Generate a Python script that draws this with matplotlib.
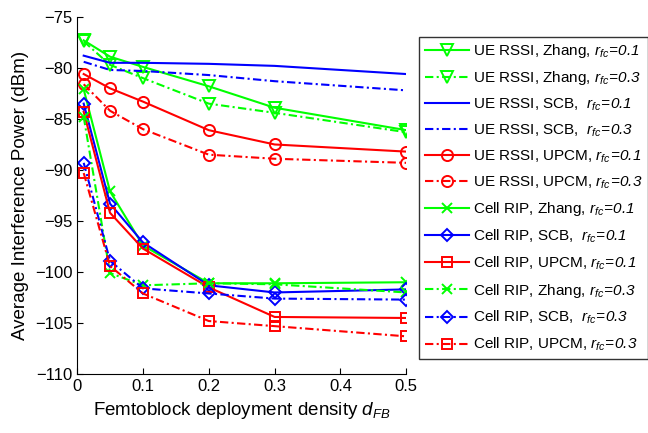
import numpy as np
import matplotlib
matplotlib.use("Agg")
import matplotlib.pyplot as plt

plt.rcParams["font.family"] = ["Liberation Sans", "DejaVu Sans"]
plt.rcParams["mathtext.fontset"] = "custom"
plt.rcParams["mathtext.rm"] = "Liberation Sans"
plt.rcParams["mathtext.it"] = "Liberation Sans:italic"
# sf slot used for italic digits (mathtext puts non-letters of \mathit in rm)
plt.rcParams["mathtext.sf"] = "Liberation Sans:italic"

# --- data ---
density = [0.01, 0.05, 0.1, 0.2, 0.3, 0.5]

ue_zhang_01 = [-77.3, -78.9, -79.9, -81.8, -83.9, -86.1]
ue_zhang_03 = [-77.4, -79.7, -81.0, -83.5, -84.4, -86.3]
ue_scb_01 = [-78.8, -79.5, -79.5, -79.6, -79.8, -80.6]
ue_scb_03 = [-79.4, -80.2, -80.3, -80.7, -81.3, -82.2]
ue_upcm_01 = [-80.6, -82.0, -83.3, -86.1, -87.5, -88.2]
ue_upcm_03 = [-81.6, -84.2, -86.0, -88.5, -88.9, -89.3]
rip_zhang_01 = [-82.1, -92.1, -97.4, -101.1, -101.1, -101.0]
rip_scb_01 = [-83.5, -93.3, -97.1, -101.3, -102.0, -101.7]
rip_upcm_01 = [-84.3, -94.2, -97.7, -101.5, -104.4, -104.5]
rip_zhang_03 = [-84.8, -100.1, -101.3, -101.1, -101.2, -102.0]
rip_scb_03 = [-89.3, -98.9, -101.6, -102.1, -102.6, -102.7]
rip_upcm_03 = [-90.3, -99.4, -102.1, -104.8, -105.3, -106.3]

rfc1 = r"$r_{fc}\!\mathsf{=}\!\mathsf{0.1}$"
rfc3 = r"$r_{fc}\!\mathsf{=}\!\mathsf{0.3}$"

# (values, label, color, style, marker, markersize)
series = [
    (ue_zhang_01, "UE RSSI, Zhang, " + rfc1, "#00ff00", "-", "v", 9),
    (ue_zhang_03, "UE RSSI, Zhang, " + rfc3, "#00ff00", "-.", "v", 9),
    (ue_scb_01, "UE RSSI, SCB,  " + rfc1, "#0000ff", "-", None, 0),
    (ue_scb_03, "UE RSSI, SCB,  " + rfc3, "#0000ff", "-.", None, 0),
    (ue_upcm_01, "UE RSSI, UPCM, " + rfc1, "#ff0000", "-", "o", 8),
    (ue_upcm_03, "UE RSSI, UPCM, " + rfc3, "#ff0000", "-.", "o", 8),
    (rip_zhang_01, "Cell RIP, Zhang, " + rfc1, "#00ff00", "-", "x", 7),
    (rip_scb_01, "Cell RIP, SCB,  " + rfc1, "#0000ff", "-", "D", 6),
    (rip_upcm_01, "Cell RIP, UPCM, " + rfc1, "#ff0000", "-", "s", 7),
    (rip_zhang_03, "Cell RIP, Zhang, " + rfc3, "#00ff00", "-.", "x", 7),
    (rip_scb_03, "Cell RIP, SCB,  " + rfc3, "#0000ff", "-.", "D", 6),
    (rip_upcm_03, "Cell RIP, UPCM, " + rfc3, "#ff0000", "-.", "s", 7),
]

fig = plt.figure(figsize=(6.48, 4.33), dpi=100)
ax = fig.add_axes([0.119, 0.136, 0.508, 0.825])

for vals, label, color, ls, marker, ms in series:
    line, = ax.plot(density, vals, color=color, linestyle=ls, lw=1.5,
                    marker=marker, markersize=ms, markerfacecolor="none",
                    markeredgewidth=1.4, label=label)
    if ls == "-.":
        line.set_dashes((4, 1.6, 1, 1.6))

ax.set_xlim(0, 0.5)
ax.set_ylim(-110, -75)
ax.set_xticks([0, 0.1, 0.2, 0.3, 0.4, 0.5])
ax.set_xticklabels(["0", "0.1", "0.2", "0.3", "0.4", "0.5"])
ax.set_yticks(np.arange(-110, -74, 5))
ax.tick_params(direction="in", labelsize=12, length=4)
ax.spines["top"].set_visible(False)
ax.spines["right"].set_visible(False)

ax.set_xlabel(r"Femtoblock deployment density $d_{FB}$", fontsize=13.5)
ax.set_ylabel("Average Interference Power (dBm)", fontsize=13.5)

leg = ax.legend(loc="upper left", bbox_to_anchor=(1.04, 0.945), fontsize=11,
                numpoints=1, handlelength=2.9, handletextpad=0.25,
                borderpad=0.35, labelspacing=0.62, frameon=True,
                fancybox=False, borderaxespad=0, edgecolor="black")
leg.get_frame().set_linewidth(1.0)

fig.savefig("out.png", dpi=100)
